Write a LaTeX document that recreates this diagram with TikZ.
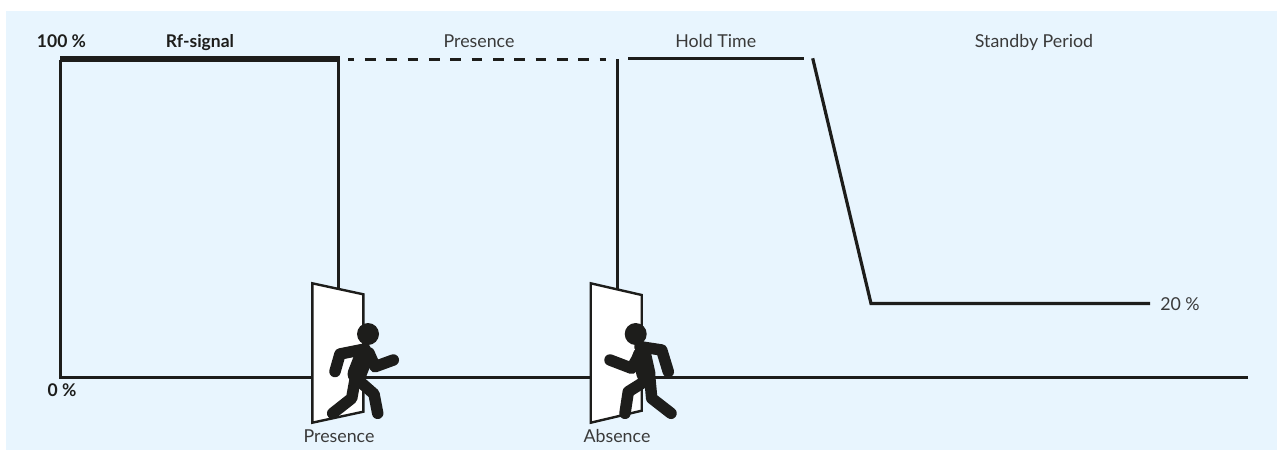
\documentclass[tikz,border=0pt]{standalone}
\usepackage{fontspec}
\setmainfont{Lato}
\definecolor{panel}{HTML}{E8F5FE}
\definecolor{ink}{HTML}{1D1D1B}
\definecolor{txt}{HTML}{3A3A3A}
\tikzset{
  lbl/.style={inner sep=0pt,text=txt,font=\fontsize{17.8}{20}\selectfont,anchor=base},
  blbl/.style={lbl,text=ink,font=\fontsize{17.5}{20}\bfseries\selectfont},
  sig/.style={draw=ink,line width=3pt},
  doorleaf/.style={draw=ink,fill=white,line width=2.4pt,line join=miter},
  limb/.style={draw=ink,line width=11.5pt,line cap=round,line join=round},
  trunk/.style={draw=ink,line width=19pt,line cap=round,line join=round},
}
\begin{document}
\begin{tikzpicture}[x=1pt,y=-1pt]
\useasboundingbox (0,0) rectangle (1277,450);
\fill[panel] (6,11) rectangle (1277,450);
% signal
\coordinate (o) at (60.7,377);
\coordinate (t) at (60.7,59.5);
\coordinate (a) at (338.5,59.5);
\coordinate (a0) at (338.5,300);
\coordinate (b) at (617.5,59);
\coordinate (b0) at (617.5,300);
\draw[sig] (1248,377) -- (o) -- (t);
\draw[draw=ink,line width=6pt] (60,59) -- (340,59);
\draw[sig] (a) -- (a0);
\draw[sig] (b) -- (b0);
\draw[draw=ink,line width=3pt,dash pattern=on 10.67pt off 10.67pt,dash phase=4.67pt] (348.3,59) -- (606,59);
\draw[sig] (628.3,58.7) -- (804.3,58.7);
\draw[sig,line width=3.2pt,line join=miter] (812.7,58.3) -- (871,303.5) -- (1150,303.5);
% doors
\draw[doorleaf] (312.3,283.3) -- (363.3,294.3) -- (363.3,411.7) -- (312.3,422.7) -- cycle;
\draw[doorleaf] (590.7,283.3) -- (641.7,295) -- (641.7,410.7) -- (590.7,422.7) -- cycle;
% person entering
\fill[ink] (368,334) circle (11);
\draw[trunk] (364,356) -- (357,374);
\draw[limb] (365,349) -- (340,354) -- (335,371.5);
\draw[limb] (369,353) -- (375,366.7) -- (393.3,360);
\draw[limb] (355,380) -- (351.7,398.3) -- (332.7,413.3);
\draw[limb] (360,381.7) -- (374,394) -- (377.7,413.3);
% person leaving
\fill[ink] (635.7,334) circle (11);
\draw[trunk] (642,356) -- (646,374);
\draw[limb] (640,353.3) -- (631.7,368.3) -- (610,360);
\draw[limb] (640,346.7) -- (661.7,350) -- (668.3,371.7);
\draw[limb] (641.7,383.3) -- (628.3,391.7) -- (625,413.3);
\draw[limb] (650,380) -- (651.7,398.3) -- (671,413.3);
% labels
\node[blbl] (l100) at (61.5,47) {100 \%};
\node[blbl] (lrf) at (200,47) {Rf-signal};
\node[lbl] (lpres) at (479,47) {Presence};
\node[lbl] (lhold) at (715.7,47) {Hold Time};
\node[lbl] (lstand) at (1034,47) {Standby Period};
\node[lbl] (l20) at (1180,310) {20 \%};
\node[blbl] (l0) at (62,396) {0 \%};
\node[lbl] (lp) at (339,442) {Presence};
\node[lbl] (la) at (617,442) {Absence};
\end{tikzpicture}
\end{document}
